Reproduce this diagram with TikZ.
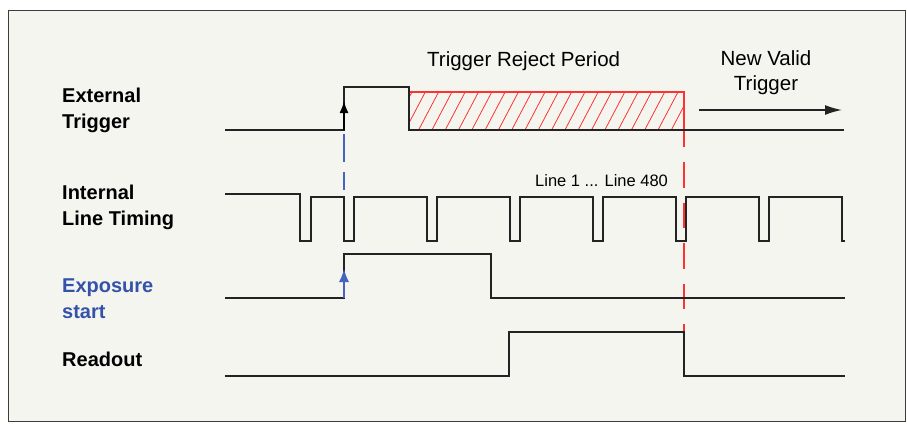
\documentclass[tikz,border=0pt]{standalone}
\usepackage{fontspec}
\setmainfont{Liberation Sans}
\usetikzlibrary{arrows.meta}
\definecolor{bgc}{RGB}{245,245,240}
\definecolor{framec}{RGB}{60,60,60}
\definecolor{sigc}{RGB}{35,35,35}
\definecolor{lblblue}{RGB}{52,82,170}
\definecolor{arrblue}{RGB}{70,100,190}
\definecolor{rejred}{RGB}{255,50,50}
\begin{document}
\begin{tikzpicture}[x=1pt,y=-1pt,
  sig/.style={draw=sigc,line width=1.6pt,line join=miter},
  lbl/.style={anchor=base west,inner sep=0pt,font=\fontsize{20}{24}\selectfont\bfseries},
  txt/.style={anchor=base,inner sep=0pt,font=\fontsize{20.5}{24}\selectfont},
  small/.style={anchor=base west,inner sep=0pt,font=\fontsize{16.5}{20}\selectfont},
]
\useasboundingbox (0,0) rectangle (907,423);
\fill[white] (0,0) rectangle (907,423);
\draw[fill=bgc,draw=framec,line width=1.5pt] (8.5,10.5) rectangle (905.5,421.5);

% labels
\node[lbl] (ext1) at (62,102.3) {External};
\node[lbl] (ext2) at (62,128) {Trigger};
\node[lbl] (int1) at (62,199.3) {Internal};
\node[lbl] (int2) at (62,225) {Line Timing};
\node[lbl,text=lblblue] (exp1) at (62,292.7) {Exposure};
\node[lbl,text=lblblue] (exp2) at (62,318) {start};
\node[lbl] (rd) at (62,366.7) {Readout};

% texts
\node[txt,anchor=base west] (rej) at (427,66.7) {Trigger Reject Period};
\node[txt] (nv1) at (766,65) {New Valid};
\node[txt] (nv2) at (766,90.5) {Trigger};
\node[small] (lines) at (535,186.7) {Line 1 ... Line 480};

% hatched reject period
\begin{scope}
\clip (409,92) rectangle (684,130);
\foreach \k in {0,...,22} \draw[rejred,line width=0.8pt] ({392+\k*13.3},130) -- ({412+\k*13.3},92);
\end{scope}
\draw[rejred,line width=1.2pt] (409,92) -- (684,92) -- (684,130);
\draw[rejred,line width=1.2pt,dash pattern=on 25.5pt off 15pt,dash phase=8.5pt] (684,130) -- (684,332);

% blue dashed marker
\draw[arrblue,line width=1.2pt,dash pattern=on 28pt off 10pt,dash phase=34pt] (344,130) -- (344,190);

% External trigger
\draw[sig] (225,130) -- (344,130) -- (344,87) -- (409,87) -- (409,130) -- (844,130);
\draw[draw=black,line width=1.6pt,-{Latex[length=12pt,width=9pt]}] (344,130) -- (344,101);

% Internal line timing
\draw[sig] (225,194) -- (300,194) -- (300,241) -- (311,241) -- (311,197)
  -- (344,197) -- (344,241) -- (354,241) -- (354,197)
  -- (427,197) -- (427,241) -- (437,241) -- (437,197)
  -- (510,197) -- (510,241) -- (520,241) -- (520,197)
  -- (593,197) -- (593,241) -- (603,241) -- (603,197)
  -- (676,197) -- (676,241) -- (686,241) -- (686,197)
  -- (759,197) -- (759,241) -- (769,241) -- (769,197)
  -- (842,197) -- (842,241) -- (845,241);

% Exposure
\draw[sig] (225,298) -- (344,298) -- (344,254) -- (491,254) -- (491,298) -- (845,298);
\draw[draw=arrblue,line width=1.4pt,-{Latex[length=13pt,width=10pt]}] (344,298) -- (344,269);

% Readout
\draw[sig] (225,376) -- (509,376) -- (509,332) -- (684,332) -- (684,376) -- (845,376);

% New valid trigger arrow
\draw[sigc,line width=1.6pt,-{Latex[length=17pt,width=10pt]}] (699,110) -- (842,110);
\end{tikzpicture}
\end{document}
